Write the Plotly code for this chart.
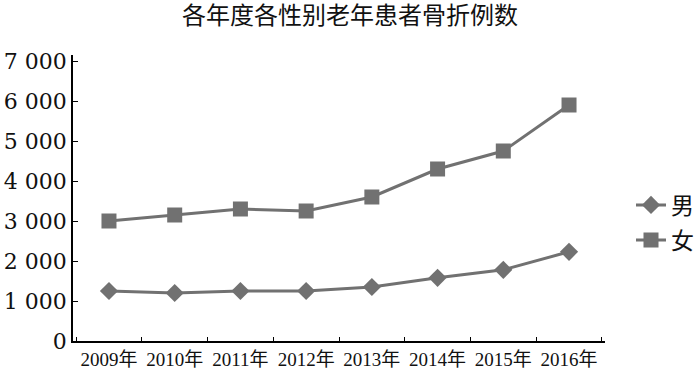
import plotly.graph_objects as go

years = ["2009年", "2010年", "2011年", "2012年", "2013年", "2014年", "2015年", "2016年"]
male = [1250, 1200, 1250, 1250, 1350, 1580, 1780, 2230]
female = [3000, 3150, 3300, 3250, 3600, 4300, 4750, 5900]
y_ticks = [0, 1000, 2000, 3000, 4000, 5000, 6000, 7000]
y_tick_text = ["0", "1 000", "2 000", "3 000", "4 000", "5 000", "6 000", "7 000"]

grey = "#717171"
serif = "Liberation Serif, Noto Sans CJK SC, serif"

fig = go.Figure()
fig.add_trace(go.Scatter(
    x=years, y=male, name="男", mode="lines+markers",
    line=dict(color=grey, width=3),
    marker=dict(symbol="diamond", size=14, color=grey),
    legend="legend",
))
fig.add_trace(go.Scatter(
    x=years, y=female, name="女", mode="lines+markers",
    line=dict(color=grey, width=3),
    marker=dict(symbol="square", size=15, color=grey),
    legend="legend2",
))

L, R, T, B = 73, 95, 55, 30
W = 700 - L - R
H = 371 - T - B
fig.update_layout(
    width=700, height=371,
    margin=dict(l=L, r=R, t=T, b=B, autoexpand=False),
    paper_bgcolor="white", plot_bgcolor="white",
    title=dict(text="各年度各性别老年患者骨折例数", x=0.5, xanchor="center",
               y=1 - 16 / 371, yanchor="middle",
               font=dict(family="Noto Sans CJK SC", size=24, color="#111")),
    showlegend=True,
    legend=dict(x=(631 - L) / W, y=(371 - B - 205) / H, xanchor="left", yanchor="middle",
                font=dict(family="Noto Sans CJK SC", size=23, color="#111"),
                bgcolor="rgba(0,0,0,0)", borderwidth=0),
    legend2=dict(x=(631 - L) / W, y=(371 - B - 240) / H, xanchor="left", yanchor="middle",
                 font=dict(family="Noto Sans CJK SC", size=23, color="#111"),
                 bgcolor="rgba(0,0,0,0)", borderwidth=0),
    font=dict(family=serif, color="#111"),
)
fig.update_xaxes(
    showline=True, linecolor="black", linewidth=1.5,
    ticks="inside", tickson="boundaries", ticklen=4, tickcolor="black",
    tickfont=dict(family=serif, size=19, color="#111"), tickangle=0,
    automargin=False,
    showgrid=False, zeroline=False,
)
fig.update_yaxes(
    range=[0, 7150], tickvals=y_ticks, ticktext=y_tick_text,
    showline=True, linecolor="black", linewidth=1.5,
    ticks="inside", ticklen=5, tickcolor="black",
    tickfont=dict(family="DejaVu Serif, serif", size=22, color="#111"),
    automargin=False,
    showgrid=False, zeroline=False,
)
fig.write_html("out.html")
